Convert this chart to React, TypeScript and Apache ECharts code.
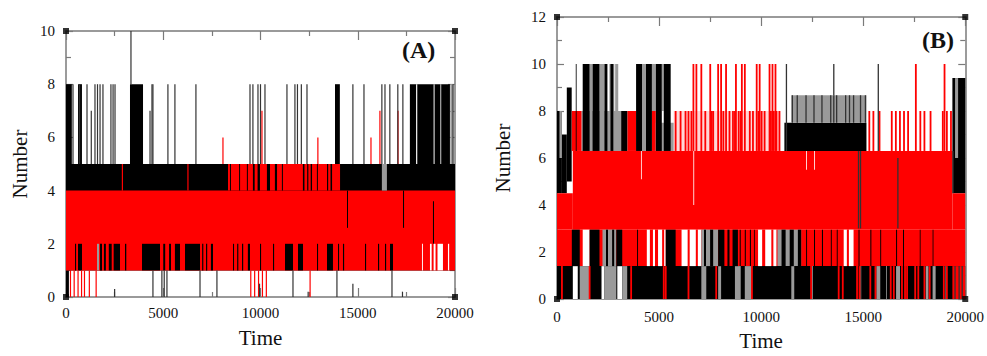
import React, { useEffect, useRef } from "react";
import * as echarts from "echarts";

// ---------- Panel A data (time 0-20000, number 0-10) ----------
// blocks: [t0, t1, low, high]; lines: [t, low, high]
const A_BLACK_BLOCKS = [
  [0, 20000, 1, 5], [0, 300, 5, 8], [620, 820, 5, 8], [3290, 3960, 5, 8],
  [13830, 14080, 5, 8], [17680, 19740, 5, 8], [0, 150, 0, 1],
];
const A_RED_BLOCKS = [[0, 20000, 1, 4], [8330, 14090, 4, 5]];
const A_GRAY_STRIPES = [[16240, 16500, 4, 5], [1594, 1700, 1, 2], [19760, 19900, 5, 8]];
const A_WHITE_STRIPES = [
  [18302, 18350, 1, 2], [18713, 18800, 1, 2], [18900, 19000, 1, 2], [19100, 19381, 1, 2], [19638, 19700, 1, 2],
  [18000, 18060, 5, 8], [18900, 18950, 5, 8], [19250, 19290, 5, 8],
];
const A_BLACK_STRIPES = [
  [463, 520, 1, 2], [617, 823, 1, 2], [1750, 1850, 1, 2], [1950, 2050, 1, 2], [2200, 2350, 1, 2],
  [2450, 2776, 1, 2], [3033, 3100, 1, 2], [3907, 4833, 1, 2], [5000, 5100, 1, 2], [5300, 5400, 1, 2],
  [5600, 5861, 1, 2], [6118, 6889, 1, 2], [7000, 7060, 1, 2], [7200, 7260, 1, 2], [7450, 7557, 1, 2],
  [8585, 8640, 1, 2], [8800, 8860, 1, 2], [9050, 9110, 1, 2], [9350, 9460, 1, 2], [9973, 10030, 1, 2],
  [10642, 10700, 1, 2], [11259, 11670, 1, 2], [11927, 12184, 1, 2], [12904, 12960, 1, 2],
  [13418, 13726, 1, 2], [13983, 14040, 1, 2], [14240, 14300, 1, 2], [15372, 15430, 1, 2],
  [16040, 16100, 1, 2], [16400, 16460, 1, 2], [16657, 16811, 1, 2],
  [14446, 14500, 2.6, 4], [17325, 17380, 2.6, 4], [18867, 18920, 2, 3.6],
  [8430, 8480, 4, 5], [8900, 8950, 4, 5], [9300, 9350, 4, 5], [9610, 9700, 4, 5], [9850, 9970, 4, 5],
  [10330, 10490, 4, 5], [10740, 10850, 4, 5], [11100, 11150, 4, 5], [12180, 12260, 4, 5],
  [12400, 12460, 4, 5], [12580, 12650, 4, 5], [12900, 12950, 4, 5], [13420, 13480, 4, 5], [13600, 13680, 4, 5],
];
const A_RED_LINES = [
  [8070, 5, 6], [10075, 5, 7], [12950, 5, 6], [15680, 5, 6], [16140, 5, 7], [17070, 5, 7],
  [2900, 4, 5], [6270, 4, 5],
  [230, 0, 1], [420, 0, 1], [620, 0, 1], [800, 0, 1], [950, 0, 1], [1200, 0, 1], [1550, 0, 1],
  [9500, 0, 1], [9700, 0, 1], [9900, 0, 1], [10100, 0, 1], [10300, 0, 1], [12550, 0, 1],
];
const A_BLACK_LINES = [
  [360, 5, 8], [700, 5, 8], [1080, 5, 8], [1300, 5, 7], [1490, 5, 8], [1620, 5, 8], [1750, 5, 8],
  [1900, 5, 8], [2310, 5, 8], [2420, 5, 8], [2520, 5, 8], [3340, 8, 10], [4320, 5, 7], [4420, 5, 8],
  [4470, 5, 8], [5240, 5, 8], [5600, 5, 8], [6680, 5, 8], [9460, 5, 8], [9610, 5, 8], [9870, 5, 8],
  [10000, 5, 8], [10230, 5, 8], [11360, 5, 8], [11770, 5, 8], [11900, 5, 8], [12100, 5, 8],
  [12390, 5, 8], [14750, 5, 8], [15320, 5, 8], [16240, 5, 8], [16400, 5, 8], [16650, 5, 8],
  [17060, 5, 8], [17320, 5, 8], [19900, 5, 8],
  [4470, 0, 1], [4930, 0, 1], [5050, 0, 1], [5190, 0, 1], [6890, 0, 1], [7760, 0, 1], [11670, 0, 1],
  [13930, 0, 1], [16760, 0, 1], [2500, 0, 0.3], [9950, 0, 0.5], [12450, 0, 0.2], [14750, 0, 0.5], [17300, 0, 0.2],
];

// ---------- Panel B data (time 0-20000, number 0-12) ----------
const B_BLACK_BLOCKS = [
  [0, 20000, 0, 1.4], [0, 240, 4.5, 8], [240, 480, 4.5, 7], [480, 720, 5, 9],
  [11140, 15160, 6.3, 7.5], [19370, 20000, 4.5, 9.4],
];
const B_RED_BLOCKS = [
  [0, 20000, 1.4, 2.95], [0, 775, 2.95, 4.5], [775, 19370, 2.95, 6.3], [19370, 20000, 2.95, 4.5],
  [19370, 20000, 0, 1.4], [726, 1210, 6.3, 8], [3440, 3874, 6.3, 8], [4650, 4840, 6.3, 8],
];
const B_PINK_BLOCKS = [[5715, 10950, 6.3, 8]];
const B_GRAY_BLOCKS = [
  [120, 240, 6, 8], [1210, 3440, 6.3, 8], [3874, 4650, 6.3, 8], [4840, 5715, 6.3, 7.5],
  [11480, 15160, 7.5, 8.67], [19500, 19650, 6, 9.4],
];
const B_WHITE_STRIPES = [
  [1259, 1598, 1.4, 2.95], [4400, 4550, 1.4, 2.95], [4700, 4800, 1.4, 2.95], [4950, 5150, 1.4, 2.95],
  [5250, 5327, 1.4, 2.95], [6102, 6400, 1.4, 2.95], [6500, 6800, 1.4, 2.95], [6900, 7071, 1.4, 2.95],
  [9850, 10050, 1.4, 2.95], [10200, 10500, 1.4, 2.95], [10600, 10750, 1.4, 2.95],
  [14045, 14200, 1.4, 2.95], [14300, 14529, 1.4, 2.95],
  [775, 1017, 0, 1.4], [2180, 2325, 0, 1.4], [2954, 3196, 0, 1.4],
  [4116, 4150, 5.1, 6.3], [12200, 12240, 5.5, 6.3], [12600, 12640, 5.5, 6.3], [6680, 6720, 4, 6.3],
];
const B_GRAY_STRIPES = [
  [1114, 1598, 0, 1.4], [2325, 2906, 0, 1.4], [3196, 3439, 0, 1.4], [6420, 6470, 0, 1.4],
  [7071, 7313, 0, 1.4], [7894, 8039, 0, 1.4], [8717, 9000, 0, 1.4], [9200, 9540, 0, 1.4],
  [11478, 11623, 0, 1.4], [12495, 12530, 0, 1.4], [14868, 14900, 0, 1.4], [15643, 15836, 0, 1.4],
  [16127, 16160, 0, 1.4], [16611, 16805, 0, 1.4], [17532, 17570, 0, 1.4], [18064, 18200, 0, 1.4],
  [18400, 18549, 0, 1.4], [19033, 19070, 0, 1.4],
  [2228, 2906, 1.4, 2.95], [7071, 7894, 1.4, 2.95], [10800, 11962, 1.4, 2.95],
  [1600, 1740, 8, 10], [2082, 2325, 8, 10], [2567, 2809, 8, 10], [2850, 3000, 8, 10],
  [4165, 4359, 8, 10], [4649, 4843, 8, 10], [5134, 5230, 8, 10],
];
const B_BLACK_STRIPES = [
  [920, 960, 6.3, 10], [1259, 1598, 6.3, 10], [1743, 2082, 6.3, 10], [2325, 2470, 6.3, 10],
  [2620, 2760, 6.3, 10], [3148, 3439, 6.3, 8], [3874, 4165, 6.3, 10], [4359, 4649, 6.3, 10],
  [4843, 5134, 6.3, 10], [5230, 5569, 6.3, 10],
  [726, 1114, 1.4, 2.95], [1598, 2082, 1.4, 2.95], [2400, 2500, 1.4, 2.95], [2700, 2800, 1.4, 2.95],
  [2906, 3196, 1.4, 2.95], [3923, 3970, 1.4, 2.95], [5327, 5812, 1.4, 2.95], [7200, 7300, 1.4, 2.95],
  [7500, 7650, 1.4, 2.95], [7894, 8200, 1.4, 2.95], [8350, 8450, 1.4, 2.95], [8600, 8863, 1.4, 2.95],
  [8950, 9000, 1.4, 2.95], [9200, 9250, 1.4, 2.95], [9450, 9500, 1.4, 2.95], [9650, 9686, 1.4, 2.95],
  [11000, 11200, 1.4, 2.95], [11400, 11600, 1.4, 2.95], [11800, 11962, 1.4, 2.95],
  [12204, 12250, 1.4, 2.95], [12592, 12640, 1.4, 2.95], [12979, 13030, 1.4, 2.95],
  [13415, 13460, 1.4, 2.95], [13706, 13750, 1.4, 2.95], [14771, 14820, 1.4, 2.95],
  [15352, 15400, 1.4, 2.95], [15836, 15880, 1.4, 2.95], [16611, 16660, 1.4, 2.95],
  [16951, 17000, 1.4, 2.95], [17773, 17810, 1.4, 2.95], [18403, 18440, 1.4, 2.95],
];
const B_RED_LINES = [
  [6683, 6.3, 10], [6829, 6.3, 10], [7071, 6.3, 10], [7507, 6.3, 10], [7894, 6.3, 10], [8039, 6.3, 10],
  [8282, 6.3, 10], [8766, 6.3, 10], [9056, 6.3, 10], [9202, 6.3, 10], [9783, 6.3, 10], [9928, 6.3, 10],
  [10412, 6.3, 10], [10557, 6.3, 10], [10703, 6.3, 10], [17580, 6.3, 10], [18985, 6.3, 10],
  [5812, 6.3, 8], [6054, 6.3, 8], [6296, 6.3, 8], [6441, 6.3, 8], [6586, 6.3, 8], [7265, 6.3, 8],
  [7580, 6.3, 8], [7652, 6.3, 8], [8150, 6.3, 8], [8450, 6.3, 8], [8621, 6.3, 8], [8717, 6.3, 8],
  [8900, 6.3, 8], [9000, 6.3, 8], [9444, 6.3, 8], [9600, 6.3, 8], [9870, 6.3, 8], [10025, 6.3, 8],
  [10170, 6.3, 8], [10480, 6.3, 8], [10620, 6.3, 8], [10751, 6.3, 8], [10897, 6.3, 8],
  [15300, 6.3, 8], [15500, 6.3, 8], [15800, 6.3, 8], [16400, 6.3, 8], [16600, 6.3, 8], [16800, 6.3, 8],
  [17000, 6.3, 8], [17200, 6.3, 8], [17800, 6.3, 8], [18000, 6.3, 8], [18300, 6.3, 8], [18900, 6.3, 8],
  [19100, 6.3, 8], [19300, 6.3, 8],
  [242, 0, 1.4], [1598, 0, 1.4], [3632, 0, 1.4], [5230, 0, 1.4], [5327, 0, 1.4], [6441, 0, 1.4],
  [7800, 0, 1.4], [9550, 0, 1.4], [12447, 0, 1.4], [13800, 0, 1.4], [14000, 0, 1.4], [14700, 0, 1.4],
  [14820, 0, 1.4], [15350, 0, 1.4], [15600, 0, 1.4], [16350, 0, 1.4], [16500, 0, 1.4], [16900, 0, 1.4],
  [17050, 0, 1.4], [17150, 0, 1.4], [17550, 0, 1.4], [17700, 0, 1.4], [18000, 0, 1.4], [18258, 0, 1.4],
  [18950, 0, 1.4], [19100, 0, 1.4],
];
const B_BLACK_LINES = [
  [11240, 6.3, 10], [13560, 8.67, 10], [15740, 6.3, 10],
  [11530, 7.5, 8.67], [11770, 7.5, 8.67], [12200, 7.5, 8.67], [12590, 7.5, 8.67], [12980, 7.5, 8.67],
  [13410, 7.5, 8.67], [13560, 7.5, 8.67], [13700, 7.5, 8.67], [14140, 7.5, 8.67], [14330, 7.5, 8.67],
  [14530, 7.5, 8.67], [14870, 7.5, 8.67], [15110, 7.5, 8.67],
  [14770, 3, 6.3], [14870, 3, 6.3], [16700, 3, 6], [19400, 4.5, 6.3],
  [19500, 0, 1.4], [19700, 0, 1.4], [19850, 0, 1.4],
];

const CORNERS_A = [[0, 0], [0, 10], [20000, 10], [20000, 0]];
const CORNERS_B = [[0, 0], [0, 12], [20000, 12], [20000, 0]];

const SERIF = "Liberation Serif";
const AXIS_COLOR = "#7a7a7a";

function bandSeries(data: number[][], color: string, idx: number, minW: number, isLine = false) {
  const d = isLine ? data.map((r) => [r[0], r[0], r[1], r[2]]) : data;
  return {
    type: "custom",
    xAxisIndex: idx,
    yAxisIndex: idx,
    data: d,
    clip: true,
    silent: true,
    encode: { x: [0, 1], y: [2, 3] },
    renderItem: (_p: any, api: any) => {
      const a = api.coord([api.value(0), api.value(3)]);
      const b = api.coord([api.value(1), api.value(2)]);
      let x = a[0];
      let w = b[0] - a[0];
      if (w < minW) {
        x -= (minW - w) / 2;
        w = minW;
      }
      return { type: "rect", shape: { x, y: a[1], width: w, height: b[1] - a[1] }, style: { fill: color } };
    },
  };
}

const labelFmt = (v: number) => String(v);

function xAxesFor(gridIndex: number, nameGap: number, labelMargin: number) {
  const common = {
    type: "value",
    gridIndex,
    min: 0,
    max: 20000,
    interval: 5000,
    axisLine: { onZero: false, lineStyle: { color: AXIS_COLOR, width: 1.5 } },
    axisTick: { inside: true, length: 9, lineStyle: { color: AXIS_COLOR, width: 1.2 } },
    minorTick: { show: true, splitNumber: 2, length: 5, lineStyle: { color: AXIS_COLOR, width: 1.2 } },
    splitLine: { show: false },
    minorSplitLine: { show: false },
  };
  return [
    {
      ...common,
      position: "bottom",
      name: "Time",
      nameLocation: "middle",
      nameGap,
      nameTextStyle: { fontFamily: SERIF, fontSize: 21, color: "#111" },
      axisLabel: {
        fontFamily: SERIF, fontSize: 15, color: "#111", margin: labelMargin,
        showMinLabel: true, showMaxLabel: true, formatter: labelFmt,
      },
    },
    { ...common, position: "top", axisLabel: { show: false } },
  ];
}

function yAxesFor(gridIndex: number, max: number, nameGap: number) {
  const common = {
    type: "value",
    gridIndex,
    min: 0,
    max,
    interval: 2,
    axisLine: { onZero: false, lineStyle: { color: AXIS_COLOR, width: 1.5 } },
    axisTick: { inside: true, length: 7, lineStyle: { color: AXIS_COLOR, width: 1.2 } },
    minorTick: { show: true, splitNumber: 2, length: 5, lineStyle: { color: AXIS_COLOR, width: 1.2 } },
    splitLine: { show: false },
    minorSplitLine: { show: false },
  };
  return [
    {
      ...common,
      position: "left",
      name: "Number",
      nameLocation: "middle",
      nameGap,
      nameTextStyle: { fontFamily: SERIF, fontSize: 21, color: "#111" },
      axisLabel: {
        fontFamily: SERIF, fontSize: 15, color: "#111", margin: 11,
        showMinLabel: true, showMaxLabel: true, formatter: labelFmt,
      },
    },
    { ...common, position: "right", axisLabel: { show: false } },
  ];
}

function panelSeries(idx: number, layers: [number[][], string, number][]) {
  return layers.map(([d, c, lw]) => bandSeries(d, c, idx, lw > 0 ? lw : 0.8, lw > 0));
}

export default function App() {
  const ref = useRef<HTMLDivElement>(null);
  useEffect(() => {
    if (!ref.current) return;
    const chart = echarts.init(ref.current, undefined, { renderer: "svg" });
    const RED = "#ff0000";
    const BLACK = "#000000";
    const GRAY = "#9a9a9a";
    const LINE = "#333333";
    const seriesA = panelSeries(0, [
      [A_BLACK_BLOCKS, BLACK, 0],
      [A_RED_BLOCKS, RED, 0],
      [A_BLACK_STRIPES, BLACK, 0],
      [A_GRAY_STRIPES, GRAY, 0],
      [A_WHITE_STRIPES, "#ffffff", 0],
      [A_RED_LINES, RED, 1.2],
      [A_BLACK_LINES, LINE, 1.2],
    ]);
    const seriesB = panelSeries(2, [
      [B_BLACK_BLOCKS, BLACK, 0],
      [B_RED_BLOCKS, RED, 0],
      [B_PINK_BLOCKS, "#ffd6d6", 0],
      [B_GRAY_BLOCKS, GRAY, 0],
      [B_WHITE_STRIPES, "#ffffff", 0],
      [B_GRAY_STRIPES, GRAY, 0],
      [B_BLACK_STRIPES, BLACK, 0],
      [B_RED_LINES, RED, 1.8],
      [B_BLACK_LINES, LINE, 1.3],
    ]);
    const corner = (idx: number, data: number[][]) => ({
      type: "scatter",
      xAxisIndex: idx,
      yAxisIndex: idx,
      symbol: "rect",
      symbolSize: 6,
      itemStyle: { color: "#000" },
      data,
      clip: false,
      silent: true,
      z: 10,
    });
    chart.setOption({
      animation: false,
      backgroundColor: "#ffffff",
      grid: [
        { left: 66, top: 31, width: 389, height: 266 },
        { left: 557, top: 17, width: 413, height: 289 },
      ],
      xAxis: [...xAxesFor(0, 30, 8), ...xAxesFor(1, 31, 10)],
      yAxis: [...yAxesFor(0, 10, 36), ...yAxesFor(1, 12, 44)],
      series: [...seriesA, ...seriesB, corner(0, CORNERS_A), corner(2, CORNERS_B)],
      graphic: [
        {
          type: "text",
          left: 402,
          top: 38,
          style: { text: "(A)", font: `bold 24px "${SERIF}"`, fill: "#111" },
        },
        {
          type: "text",
          left: 922,
          top: 28,
          style: { text: "(B)", font: `bold 24px "${SERIF}"`, fill: "#111" },
        },
      ],
    });
    return () => chart.dispose();
  }, []);
  return <div ref={ref} style={{ position: "fixed", left: 0, top: 0, width: 987, height: 356 }} />;
}
